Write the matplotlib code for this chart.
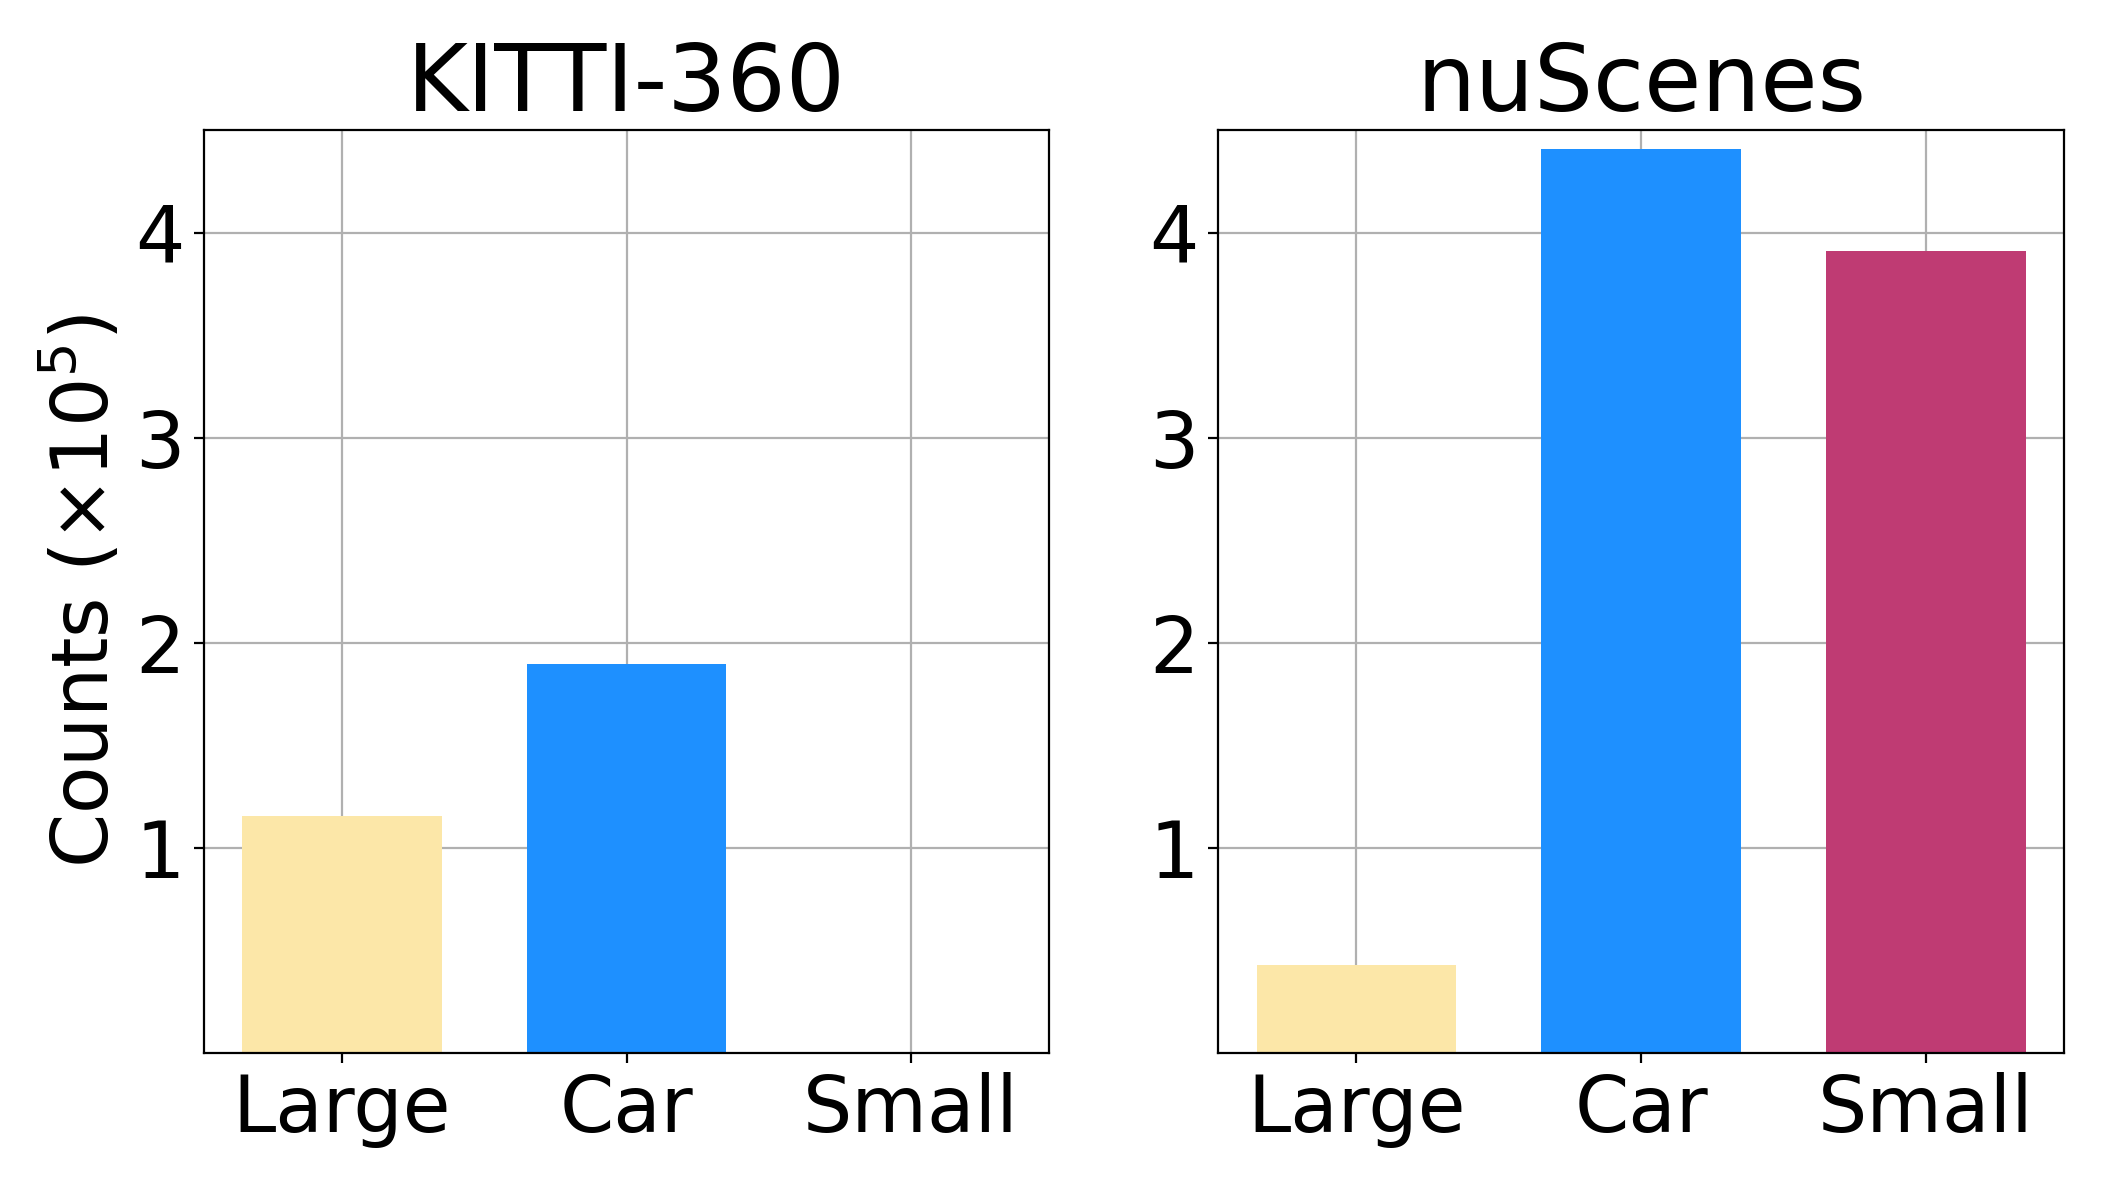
import matplotlib
matplotlib.use('Agg')
import matplotlib.pyplot as plt

categories = ['Large', 'Car', 'Small']
kitti_counts = [1.157, 1.895, 0.006]
nuscenes_counts = [0.43, 4.405, 3.91]
titles = ['KITTI-360', 'nuScenes']
colors = ['#FCE7A8', '#1E90FF', '#BF3B73']

fig = plt.figure(figsize=(10.52, 5.945), dpi=200)
ax1 = fig.add_axes([0.097, 0.1144, 0.4016, 0.7763])
ax2 = fig.add_axes([0.579, 0.1144, 0.4020, 0.7763])

for ax, counts, title in zip([ax1, ax2], [kitti_counts, nuscenes_counts], titles):
    ax.bar(categories, counts, width=0.7, color=colors)
    ax.set_title(title, fontsize=33.5, pad=5)
    ax.set_ylim(0, 4.5)
    ax.set_yticks([1, 2, 3, 4])
    ax.tick_params(axis='both', labelsize=28)
    ax.grid(True)
    ax.set_axisbelow(True)

ax1.set_ylabel(r'Counts ($\times 10^5$)', fontsize=28)

fig.savefig('out.png', dpi=200)
